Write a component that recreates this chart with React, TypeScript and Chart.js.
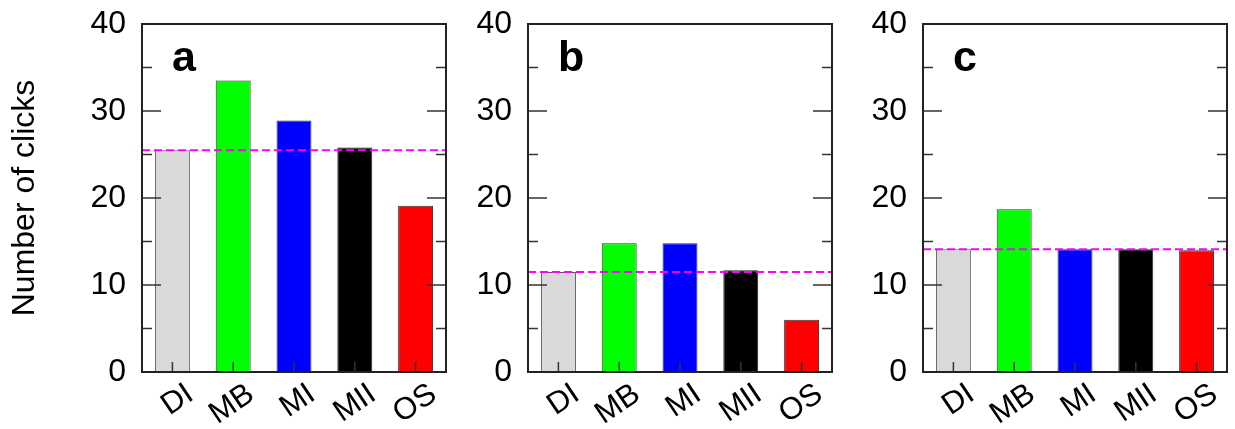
import React, { useEffect, useRef } from 'react';
import { Chart, registerables } from 'chart.js';

Chart.register(...registerables);

// ---------- data ----------
const categories = ['DI', 'MB', 'MI', 'MII', 'OS'];
const clicksA = [25.5, 33.5, 28.9, 25.8, 19.1];
const clicksB = [11.5, 14.8, 14.8, 11.7, 6.0];
const clicksC = [14.1, 18.7, 14.1, 14.1, 14.0];
const refLevels = [25.5, 11.5, 14.1];
const panelLetters = ['a', 'b', 'c'];
const barColors = ['#d9d9d9', '#00ff00', '#0000ff', '#000000', '#ff0000'];
const barBorders = ['#555555', '#333333', '#333333', '#222222', '#333333'];
const yMin = 0;
const yMax = 40;
const yStep = 10;
const yTitle = 'Number of clicks';

const FONT = '"Liberation Sans", Arial, Helvetica, sans-serif';

type PanelSpec = {
  values: number[];
  letter: string;
  ref: number;
  plotLeft: number;
  axisW: number;
  plotW: number;
  showTitle: boolean;
};

const framePlugin = {
  id: 'frame',
  afterDraw(chart: any, _args: any, opts: any) {
    const { ctx, chartArea } = chart;
    const { left, right, top, bottom } = chartArea;
    const y = chart.scales.y;
    const x = chart.scales.x;
    const line = (x1: number, y1: number, x2: number, y2: number) => {
      ctx.beginPath();
      ctx.moveTo(x1, y1);
      ctx.lineTo(x2, y2);
      ctx.stroke();
    };
    ctx.save();
    // reference dashed line
    const ry = y.getPixelForValue(opts.ref);
    ctx.strokeStyle = '#ff00ff';
    ctx.lineWidth = 2;
    ctx.setLineDash([8, 4]);
    line(left, ry, right, ry);
    ctx.setLineDash([]);
    // y ticks (inside, both sides)
    ctx.strokeStyle = '#333333';
    ctx.lineWidth = 1.5;
    const vals: number[] = y.ticks.map((t: any) => t.value);
    vals.forEach((v, i) => {
      const p = y.getPixelForValue(v);
      line(left, p, left + 19, p);
      line(right, p, right - 19, p);
      if (i < vals.length - 1) {
        const m = y.getPixelForValue((v + vals[i + 1]) / 2);
        line(left, m, left + 10, m);
        line(right, m, right - 10, m);
      }
    });
    // x ticks (inside, bottom)
    x.ticks.forEach((_t: any, i: number) => {
      const p = x.getPixelForTick(i);
      line(p, bottom, p, bottom - 10);
    });
    // frame
    ctx.strokeStyle = '#222222';
    ctx.lineWidth = 2;
    ctx.strokeRect(left, top, right - left, bottom - top);
    // panel letter
    ctx.fillStyle = '#000000';
    ctx.font = `bold 43px ${FONT}`;
    ctx.textAlign = 'left';
    ctx.textBaseline = 'alphabetic';
    ctx.fillText(opts.letter, left + 30, top + 47);
    ctx.restore();
  },
};

const PLOT_TOP = 24;
const X_AXIS_H = 57;
const H = 429;
const RIGHT_PAD = 6;

function Panel({ spec }: { spec: PanelSpec }) {
  const ref = useRef<HTMLCanvasElement>(null);
  const w = spec.axisW + spec.plotW + RIGHT_PAD;
  useEffect(() => {
    const chart = new Chart(ref.current as HTMLCanvasElement, {
      type: 'bar',
      data: {
        labels: categories,
        datasets: [
          {
            data: spec.values,
            backgroundColor: barColors,
            borderColor: barBorders,
            borderWidth: 1,
            barPercentage: 0.575,
            categoryPercentage: 1.0,
          },
        ],
      },
      options: {
        responsive: false,
        animation: false,
        devicePixelRatio: 1,
        layout: { padding: { top: PLOT_TOP, right: RIGHT_PAD, bottom: 0, left: 0 } },
        plugins: {
          legend: { display: false },
          tooltip: { enabled: false },
          // @ts-ignore
          frame: { ref: spec.ref, letter: spec.letter },
        },
        scales: {
          x: {
            type: 'category',
            offset: true,
            grid: { display: false, drawTicks: false },
            border: { display: false },
            ticks: {
              font: { family: FONT, size: 31 },
              color: '#000000',
              minRotation: 34,
              maxRotation: 34,
              autoSkip: false,
              padding: 4,
              labelOffset: 18,
            },
            afterFit: (s: any) => {
              s.height = X_AXIS_H;
              s.paddingLeft = 0;
              s.paddingRight = 0;
              s.paddingTop = 0;
              s.paddingBottom = 0;
            },
          },
          y: {
            min: yMin,
            max: yMax,
            grid: { display: false, drawTicks: false },
            border: { display: false },
            ticks: {
              stepSize: yStep,
              font: { family: FONT, size: 32 },
              color: '#000000',
              padding: 16,
            },
            title: {
              display: spec.showTitle,
              text: yTitle,
              font: { family: FONT, size: 32 },
              color: '#000000',
              padding: { top: 6, bottom: 0 },
            },
            afterFit: (s: any) => {
              s.width = spec.axisW;
              s.paddingTop = 0;
              s.paddingBottom = 0;
              s.paddingLeft = 0;
              s.paddingRight = 0;
            },
          },
        },
      },
      plugins: [framePlugin],
    } as any);
    return () => chart.destroy();
  }, []);
  return (
    <canvas
      ref={ref}
      width={w}
      height={H}
      style={{
        position: 'absolute',
        left: spec.plotLeft - spec.axisW,
        top: 0,
        width: w,
        height: H,
      }}
    />
  );
}

const panels: PanelSpec[] = [
  { values: clicksA, letter: panelLetters[0], ref: refLevels[0], plotLeft: 142, axisW: 142, plotW: 304, showTitle: true },
  { values: clicksB, letter: panelLetters[1], ref: refLevels[1], plotLeft: 528, axisW: 100, plotW: 304, showTitle: false },
  { values: clicksC, letter: panelLetters[2], ref: refLevels[2], plotLeft: 923, axisW: 100, plotW: 304, showTitle: false },
];

export default function App() {
  return (
    <div
      style={{
        position: 'absolute',
        left: 0,
        top: 0,
        width: 1235,
        height: 429,
        background: '#ffffff',
        overflow: 'hidden',
      }}
    >
      {panels.map((p, i) => (
        <Panel key={i} spec={p} />
      ))}
    </div>
  );
}
